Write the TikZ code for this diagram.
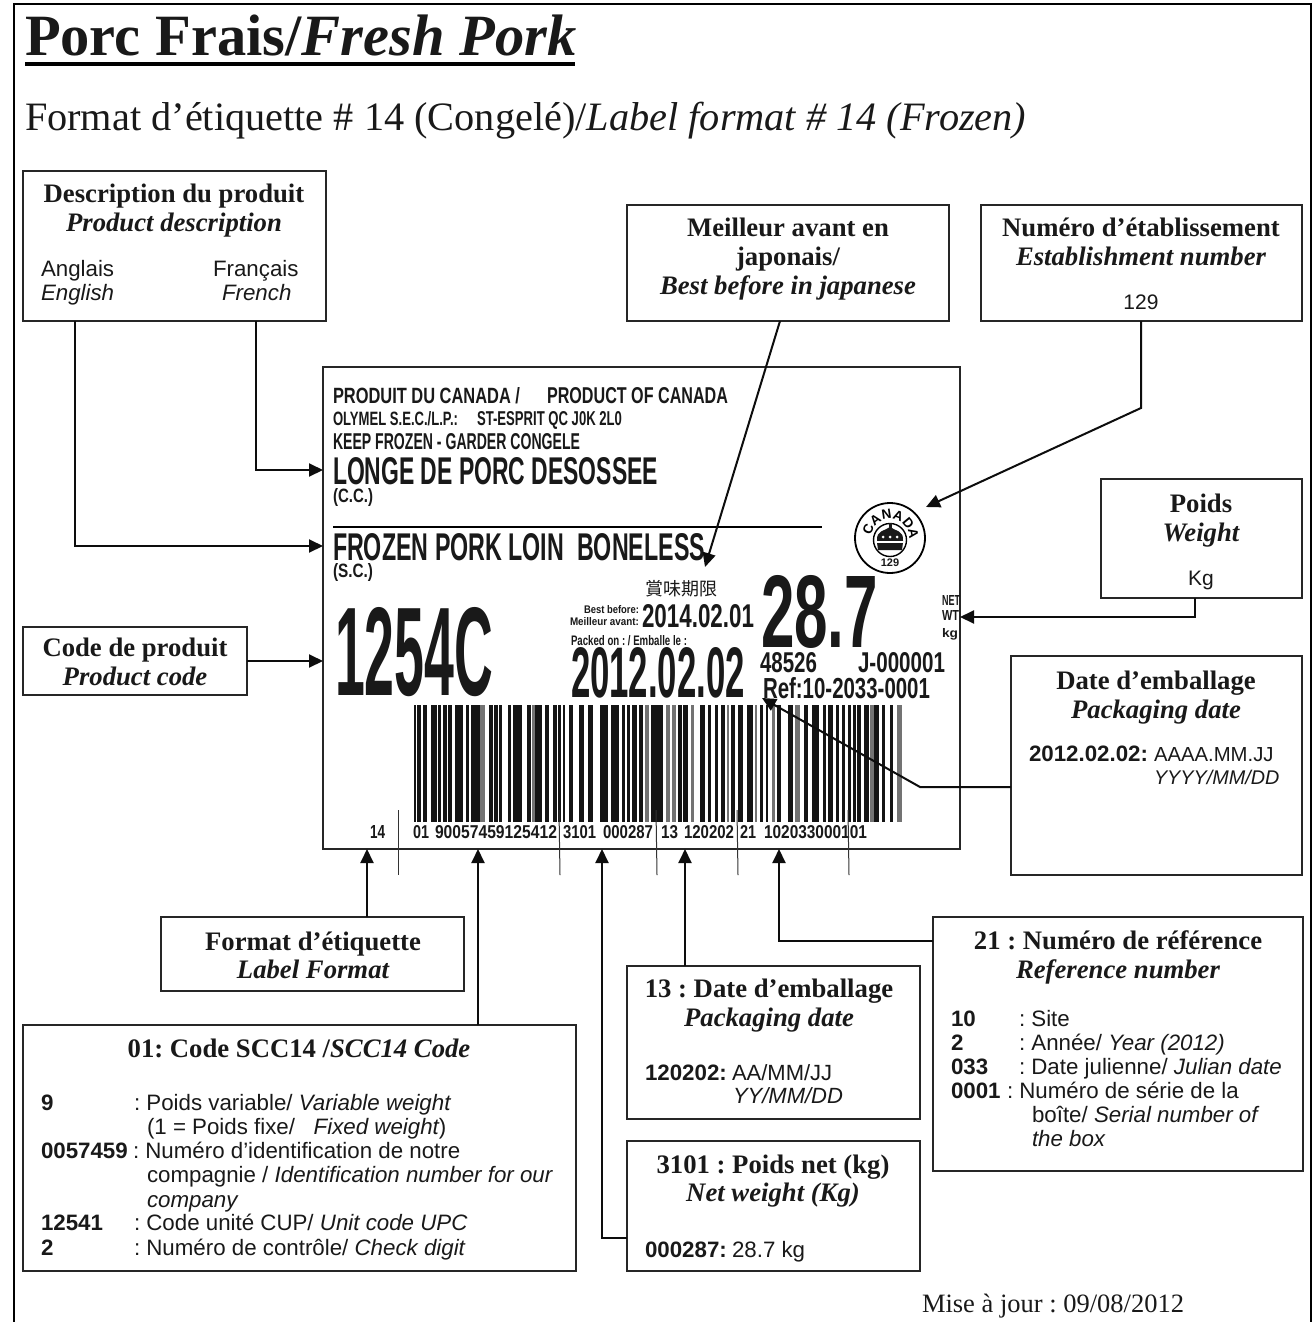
\documentclass[tikz,border=0pt]{standalone}
\usepackage{fontspec}
\usepackage{graphicx}
\setmainfont{Liberation Serif}
\setsansfont{Liberation Sans}
\newfontfamily\cjkf{Noto Sans CJK JP}
\usetikzlibrary{arrows.meta,calc,decorations.text}
\newcounter{tn}
\frenchspacing
\newcommand\fs[1]{\fontsize{#1}{#1}\selectfont}
\newcommand\ct[3]{\stepcounter{tn}\node[txt,anchor=base] (t\arabic{tn}) at (#1,#2) {#3};}
\newcommand\lt[3]{\stepcounter{tn}\node[txt,anchor=base west] (t\arabic{tn}) at (#1,#2) {#3};}
\newcommand\hb[3]{\ct{#1}{#2}{\fs{26.7}\bfseries #3}}
\newcommand\hi[3]{\ct{#1}{#2}{\fs{26.7}\bfseries\itshape #3}}
\newcommand\sa[3]{\lt{#1}{#2}{\sffamily\fs{22.3}#3}}
\newcommand\sab[3]{\lt{#1}{#2}{\sffamily\bfseries\fs{22.3}#3}}
\newcommand\sai[3]{\lt{#1}{#2}{\sffamily\itshape\fs{22.3}#3}}
% fitted label text: x0 ytop x1 baseline text
\newcommand\lb[5]{\stepcounter{tn}\node[txt,anchor=base west] (t\arabic{tn}) at (#1,#4) {\pgfmathsetlengthmacro\wa{(#3-#1)*1pt}\pgfmathsetlengthmacro\ha{(#4-#2)*1pt}\resizebox{\wa}{\ha}{\sffamily\bfseries #5}};}
\tikzset{
  txt/.style={inner sep=0pt,outer sep=0pt,text=black!90},
  box/.style={draw=black!85,line width=1.6pt,fill=white,anchor=north west,inner sep=0pt,outer sep=0pt},
  conn/.style={draw=black!95,line width=2pt},
  arr/.style={conn,-{Triangle[length=14pt,width=13pt]}},
  tick/.style={draw=black!80,line width=1pt},
  bar/.style={fill=black!92},
  gbar/.style={fill=black!55}
}
\begin{document}
\begin{tikzpicture}[x=1pt,y=-1pt]
\useasboundingbox (0,0) rectangle (1312,1322);
\fill[white] (0,0) rectangle (1312,1322);
% page frame
\draw[black,line width=2pt] (14,1322) -- (14,4.5) -- (1311,4.5) -- (1311,1322);
% title
\lt{25}{56}{\fs{58.5}\bfseries Porc Frais/\itshape Fresh Pork}
\fill[black] (25,62) rectangle (575,66.5);
\lt{25}{130}{\fs{40.3}Format d’étiquette \# 14 (Congelé)/\itshape Label format \# 14 (Frozen)}
% label frame
\node[box,minimum width=637pt,minimum height=482pt] (lab) at (323,367) {};
% boxes
\node[box,minimum width=303pt,minimum height=150pt] (desc) at (23,171) {};
\node[box,minimum width=322pt,minimum height=116pt] (best) at (627,205) {};
\node[box,minimum width=321pt,minimum height=116pt] (estb) at (981,205) {};
\node[box,minimum width=201pt,minimum height=119pt] (wgt) at (1101,479) {};
\node[box,minimum width=224pt,minimum height=68pt] (code) at (23,627) {};
\node[box,minimum width=291pt,minimum height=219pt] (pack) at (1011,656) {};
\node[box,minimum width=303pt,minimum height=74pt] (fmt) at (161,917) {};
\node[box,minimum width=370pt,minimum height=254pt] (refn) at (933,917) {};
\node[box,minimum width=293pt,minimum height=153pt] (d13) at (627,966) {};
\node[box,minimum width=293pt,minimum height=130pt] (net) at (627,1141) {};
\node[box,minimum width=553pt,minimum height=246pt] (scc) at (23,1025) {};
% box texts
\hb{174}{202}{Description du produit}
\hi{174}{231}{Product description}
\sa{41}{276}{Anglais}\sai{41}{300}{English}
\sa{213}{276}{Français}\sai{222}{300}{French}
\hb{788}{236}{Meilleur avant en}
\hb{788}{265}{japonais/}
\hi{788}{294}{Best before in japanese}
\hb{1141}{236}{Numéro d’établissement}
\hi{1141}{265}{Establishment number}
\ct{1141}{309}{\sffamily\fs{21}129}
\hb{1201}{512}{Poids}
\hi{1201}{541}{Weight}
\ct{1201}{585}{\sffamily\fs{21}Kg}
\hb{135}{656}{Code de produit}
\hi{135}{685}{Product code}
\hb{1156}{689}{Date d’emballage}
\hi{1156}{718}{Packaging date}
\sab{1029}{761}{2012.02.02:}\lt{1154}{761}{\sffamily\fs{20.3}AAAA.MM.JJ}
\lt{1154}{784}{\sffamily\itshape\fs{19.8}YYYY/MM/DD}
\hb{313}{950}{Format d’étiquette}
\hi{313}{978}{Label Format}
\hb{1118}{949}{21 : Numéro de référence}
\hi{1118}{978}{Reference number}
\sab{951}{1026}{10}\sa{1019}{1026}{: Site}
\sab{951}{1050}{2}\sa{1019}{1050}{: Année/ \itshape Year (2012)}
\sab{951}{1074}{033}\sa{1019}{1074}{: Date julienne/ \itshape Julian date}
\sab{951}{1098}{0001}\sa{1007}{1098}{: Numéro de série de la}
\sa{1032}{1122}{boîte/ \itshape Serial number of}
\sai{1032}{1146}{the box}
\hb{769}{997}{13 : Date d’emballage}
\hi{769}{1026}{Packaging date}
\sab{645}{1080}{120202:}\lt{732}{1080}{\sffamily\fs{22}AA/MM/JJ}
\lt{733}{1103}{\sffamily\itshape\fs{22}YY/MM/DD}
\hb{773}{1173}{3101 : Poids net (kg)}
\hi{773}{1201}{Net weight (Kg)}
\sab{645}{1257}{000287:}\sa{732}{1257}{28.7 kg}
\hb{299}{1057}{01: Code SCC14 /\itshape SCC14 Code}
\sab{41}{1110}{9}\sa{134}{1110}{: Poids variable/ \itshape Variable weight}
\sa{147}{1134}{(1 = Poids fixe/ \ \ {\itshape Fixed weight})}
\sab{41}{1158}{0057459}\sa{133}{1158}{: Numéro d’identification de notre}
\sa{147}{1182}{compagnie / \itshape Identification number for our}
\sai{147}{1207}{company}
\sab{41}{1230}{12541}\sa{134}{1230}{: Code unité CUP/ \itshape Unit code UPC}
\sab{41}{1255}{2}\sa{134}{1255}{: Numéro de contrôle/ \itshape Check digit}
\lt{922}{1312}{\fs{26.5}Mise à jour : 09/08/2012}
% label contents
\lb{333}{387}{520}{403}{PRODUIT DU CANADA /}
\lb{547}{387}{728}{403}{PRODUCT OF CANADA}
\lb{333}{411}{458}{425}{OLYMEL S.E.C./L.P.:}
\lb{477}{411}{622}{425}{ST-ESPRIT QC J0K 2L0}
\lb{333}{433}{580}{449}{KEEP FROZEN - GARDER CONGELE}
\lb{333}{457}{658}{484}{LONGE DE PORC DESOSSEE}
\lb{333}{488}{373}{502}{(C.C.)}
\draw[black,line width=1.2pt] (333,527) -- (822,527);
\lb{333}{533}{705}{560}{FROZEN PORK LOIN \ BONELESS}
\lb{333}{563}{373}{577}{(S.C.)}
\lb{335}{607}{493}{695}{1254C}
\stepcounter{tn}\node[txt,anchor=center] (t\arabic{tn}) at (681,589) {\cjkf\fs{18}賞味期限};
\lb{584}{605}{639}{613}{Best before:}
\lb{570}{617}{639}{625}{Meilleur avant:}
\lb{642}{604}{754}{627}{2014.02.01}
\lb{761}{575}{878}{647}{28.7}
\lb{571}{635}{687}{645}{Packed on : / Emballe le :}
\lb{571}{647}{745}{697}{2012.02.02}
\lb{760}{652}{817}{672}{48526}
\lb{858}{652}{945}{672}{J-000001}
\lb{763}{677}{930}{698}{Ref:10-2033-0001}
\lb{942}{595}{960}{605}{NET}
\lb{942}{610}{959}{620}{WT}
\lb{942}{628}{958}{637}{kg}
% seal
\begin{scope}[shift={(890,538)},y=1pt]
\draw[black,line width=1.8pt] (0,0) circle[radius=35];
\draw[black,line width=1.4pt] (0,-2) circle[radius=16.5];
\path[postaction={decorate},decoration={text along path,text align={fit to path},
  text={|\sffamily\bfseries\fs{13.5}|CANADA}}] (172:19) arc[start angle=172,end angle=8,radius=19];
% crown
\fill[black!90] (-13,-3) .. controls (-14,8) and (-5,7) .. (0,11) .. controls (5,7) and (14,8) .. (13,-3) -- cycle;
\fill[black!90] (-12,-12) -- (12,-12) -- (13,-4.5) -- (-13,-4.5) -- cycle;
\fill[black!90] (-1.5,10) rectangle (1.5,15);
\fill[white] (-13,-4.6) rectangle (13,-3.2);
\foreach \px in {-7,0,7}{\fill[white] (\px,1) circle[radius=1.5];}
\stepcounter{tn}\node[txt,anchor=center] (t\arabic{tn}) at (0,-25) {\sffamily\bfseries\fs{11}129};
\end{scope}
% barcode
\foreach \a/\b in {12/18,22/32,40/52,63/82,85/93,98/110,115/125,135/160,168/178,183/210,237/248,252/263,268/276,295/303,310/337,352/362,374/395,405/418,428/440,445/452,458/465,478/490}
  {\fill[bar] ({410+\a/3},705) rectangle ({410+\b/3},822);}
\foreach \a/\b in {210/225,365/374}
  {\fill[gbar] ({410+\a/3},705) rectangle ({410+\b/3},822);}
\foreach \a/\b in {12/27,38/55,75/98,108/132,140/150,155/165,172/185,192/205,228/265,310/322,325/340,375/390,400/408,420/430,438/450,468/480,490/500}
  {\fill[bar] ({575+\a/3},705) rectangle ({575+\b/3},822);}
\foreach \a/\b in {210/222,272/285,292/303,348/358,455/462}
  {\fill[gbar] ({575+\a/3},705) rectangle ({575+\b/3},822);}
\foreach \a/\b in {0/8,22/38,60/70,78/85,112/122,145/160,193/205,217/238,250/258,265/278,288/298,305/315,325/332,338/348,352/362,373/388,402/418,425/435,450/460}
  {\fill[bar] ({740+\a/3},705) rectangle ({740+\b/3},822);}
\foreach \a/\b in {45/52,97/105,165/180,390/402,470/485}
  {\fill[gbar] ({740+\a/3},705) rectangle ({740+\b/3},822);}
\lb{370}{825}{385}{838}{14}
\lb{413}{825}{429}{838}{01}
\lb{435}{825}{557}{838}{90057459125412}
\lb{563}{825}{596}{838}{3101}
\lb{603}{825}{653}{838}{000287}
\lb{661}{825}{678}{838}{13}
\lb{684}{825}{734}{838}{120202}
\lb{740}{825}{756}{838}{21}
\lb{764}{825}{867}{838}{102033000101}
% ticks
\coordinate (tk1a) at (398,810); \coordinate (tk1b) at (398,875);
\coordinate (tk2a) at (559,810); \coordinate (tk2b) at (560,875);
\coordinate (tk3a) at (656,810); \coordinate (tk3b) at (657,875);
\coordinate (tk4a) at (737,810); \coordinate (tk4b) at (738,875);
\coordinate (tk5a) at (848,810); \coordinate (tk5b) at (849,875);
\foreach \k in {1,...,5}{\draw[tick] (tk\k a) -- (tk\k b);}
% connectors
\coordinate (jpn) at (705,567);
\coordinate (sealpt) at (926,507);
\coordinate (sealbend) at (1141,408);
\coordinate (pdate) at (762,698);
\coordinate (pbend) at (920,787);
\draw[arr] ($(desc.south west)+(233,0)$) |- (lab.west |- 0,470);
\draw[arr] ($(desc.south west)+(52,0)$) |- (lab.west |- 0,546);
\draw[arr] ($(best.south west)+(153,0)$) -- (jpn);
\draw[arr] ($(estb.south west)+(160,0)$) -- (sealbend) -- (sealpt);
\draw[arr] ($(wgt.south west)+(94,0)$) |- (lab.east |- 0,617);
\draw[arr] (code.east) -- (lab.west |- code.east);
\draw[arr] (pack.west |- pbend) -- (pbend) -- (pdate);
\draw[arr] ($(fmt.north west)+(206,0)$) -- ++(0,-68);
\draw[arr] ($(scc.north west)+(455,0)$) -- ++(0,-176);
\draw[arr] (net.west |- 0,1238) -| (602,849);
\draw[arr] ($(d13.north west)+(58,0)$) -- ++(0,-117);
\draw[arr] (refn.west |- 0,941) -| (779,849);
\end{tikzpicture}
\end{document}
